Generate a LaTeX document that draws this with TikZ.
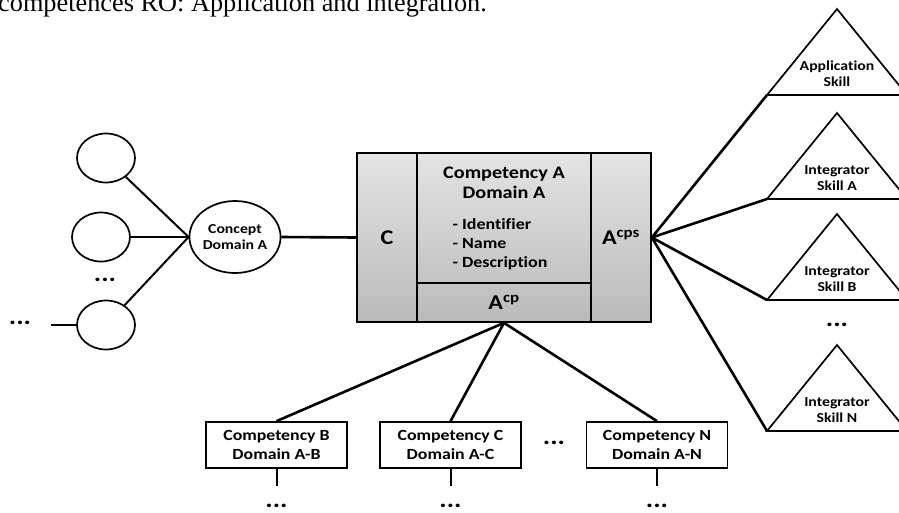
\documentclass[tikz,border=0pt]{standalone}
\usepackage{fontspec}
\newfontfamily\lbl[FakeStretch=1.15,Ligatures=NoCommon]{Carlito}
\newfontfamily\capfont{Liberation Serif}
\usetikzlibrary{shapes.geometric,positioning,calc,backgrounds}
\definecolor{boxtop}{RGB}{228,228,228}
\definecolor{boxbot}{RGB}{186,186,186}

\begin{document}
\begin{tikzpicture}[x=1pt,y=-1pt,
  txt/.style={font=\lbl\bfseries\fontsize{13.7}{16}\selectfont,align=center,inner sep=0},
  concept/.style={ellipse,draw,line width=1.7,inner sep=0},
  cell/.style={draw,line width=1.7,inner sep=0,font=\lbl\bfseries\fontsize{21}{21}\selectfont},
  compbox/.style={draw,line width=1.7,minimum width=141,minimum height=46,inner sep=0,align=center,
    font=\lbl\bfseries\fontsize{15.5}{19}\selectfont},
  tri/.style={line width=1.7,line join=miter},
  link/.style={line width=2.6},
  dots/.style={font=\lbl\bfseries\fontsize{24}{24}\selectfont,inner sep=0}]
\useasboundingbox (0,0) rectangle (899,512);
\clip (0,0) rectangle (899,512);

\node[font=\capfont\fontsize{26.3}{26}\selectfont,anchor=base east,inner sep=0] (caption) at (487,11)
  {competences RO: Application and integration.};

\node[cell,minimum width=60,minimum height=169] (cc) at (387,237.5) {C};
\node[cell,minimum width=174,minimum height=130] (cm) at (504,218) {};
\node[cell,minimum width=174,minimum height=39] (cp) at (504,302.5) {A\textsuperscript{cp}};
\node[cell,minimum width=60,minimum height=169] (cs) at (621,237.5) {A\textsuperscript{cps}};
\node[txt,font=\lbl\bfseries\fontsize{17.6}{20}\selectfont] (title) at (504,183) {Competency A\\Domain A};
\node[txt,align=left,font=\lbl\bfseries\fontsize{15.6}{19}\selectfont] (items) at (500,244)
  {- Identifier\\- Name\\- Description};
\begin{scope}[on background layer]
  \shade[top color=boxtop,bottom color=boxbot] (cc.north west) rectangle (cs.south east);
\end{scope}

\node[concept,txt,minimum width=84,minimum height=72,draw] (cd) at (235,237) {Concept\\Domain A};
\node[concept,minimum width=58,minimum height=49] (e1) at (106,158) {};
\node[concept,minimum width=58,minimum height=49] (e2) at (101,237) {};
\node[concept,minimum width=58,minimum height=49] (e3) at (106,325) {};
\node[dots] (ed) at (105,280) {...};
\node[dots] (el) at (20,323) {...};
\coordinate (l3) at (51,325);
\draw[link] (l3) -- (e3.west);
\foreach \i in {1,2,3}
  \draw[line width=2] (e\i) -- (cd.west);
\draw[link] (cd.east) -- (cc.west);

\foreach \y/\t [count=\i] in {9/{Application\\Skill},113/{Integrator\\Skill A},214/{Integrator\\Skill B},345/{Integrator\\Skill N}}{
  \draw[tri] (837,\y) -- ++(70,86) -- ++(-140,0) coordinate (s\i) -- cycle;
  \node[txt] (t\i) at (837,\y+65) {\t};
  \draw[link] (cs.east) -- (s\i);
}
\node[dots] (td) at (837,325) {...};

\foreach \x/\t [count=\i] in {276.5/B,450.5/C,657/N}{
  \node[compbox] (b\i) at (\x,445) {Competency \t\\Domain A-\t};
  \draw[link] (cp.south) -- (b\i.north);
  \coordinate (v\i) at (\x,486);
  \draw[line width=2] (b\i.south) -- (v\i);
  \node[dots] (bd\i) at (\x,506) {...};
}
\node[dots] (bd) at (554,443) {...};
\end{tikzpicture}
\end{document}
